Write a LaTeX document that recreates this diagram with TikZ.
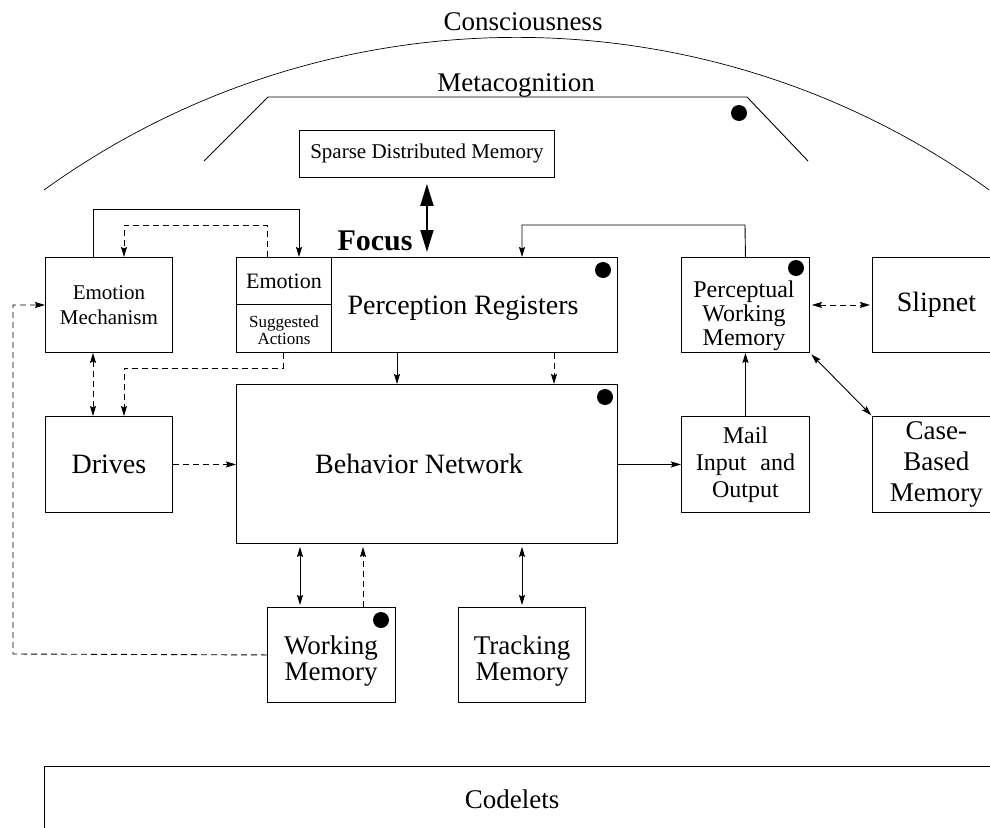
\documentclass[tikz,border=0pt]{standalone}
\usepackage{fontspec}
\setmainfont{Liberation Serif}
\usetikzlibrary{arrows.meta}
\newcommand{\fsz}[2]{\fontsize{#1}{#2}\selectfont}
\tikzset{
  box/.style={draw, line width=0.9pt, inner sep=0pt, anchor=north west, align=center},
  lbl/.style={inner sep=0pt, align=center},
  link/.style={line width=0.9pt},
  tip/.tip={Stealth[length=10pt,width=6pt,inset=1.5pt]},
  arr/.style={link, -tip},
  darr/.style={link, -tip, dash pattern=on 6pt off 4pt},
  dbl/.style={link, tip-tip},
  ddbl/.style={link, tip-tip, dash pattern=on 6pt off 4pt},
  bigarr/.style={line width=1.8pt, {Triangle[length=22pt,width=13pt]}-{Triangle[length=22pt,width=13pt]}},
  marker/.style={fill=black},
}
\begin{document}
\begin{tikzpicture}[x=1pt,y=-1pt]
\clip (0,0) rectangle (990,827);

% outer layers: consciousness arc and metacognition trapezoid
\draw[line width=0.7pt] (44,190) arc[start angle=-125.8, end angle=-54.2, radius=808];
\node[lbl, anchor=base, font=\fsz{27}{29}] (consc) at (523,30) {Consciousness};
\draw[line width=0.9pt] (204,161) -- (268,97) -- (747,97) -- (808,161);
\node[lbl, anchor=base, font=\fsz{27}{29}] (meta) at (516,91) {Metacognition};
\fill[marker] (739,113) circle[radius=8];

% memory and processing modules
\node[box, minimum width=255pt, minimum height=47pt, font=\fsz{21}{23}] (sdm) at (299,130) {Sparse Distributed Memory};
\node[box, minimum width=127pt, minimum height=95pt, font=\fsz{21}{25}] (em) at (45,257) {Emotion\\Mechanism};
\node[box, minimum width=381pt, minimum height=95pt] (pr) at (236,257) {};
\node[box, minimum width=95pt, minimum height=47pt, font=\fsz{22}{24}] (emo) at (236,257) {Emotion};
\node[box, minimum width=95pt, minimum height=48pt] (sug) at (236,304) {};
\node[lbl, font=\fsz{17}{17}] (sugtext) at (284,330) {Suggested\\Actions};
\node[lbl, anchor=base, font=\fsz{28}{30}] (prtext) at (463,314) {Perception Registers};
\node[box, minimum width=128pt, minimum height=95pt] (pwm) at (681,257) {};
\node[lbl, font=\fsz{24}{24}] (pwmtext) at (744,316) {Perceptual\\Working\\Memory};
\node[box, minimum width=128pt, minimum height=95pt, font=\fsz{28}{30}] (slip) at (872,257) {Slipnet};
\node[box, minimum width=127pt, minimum height=96pt, font=\fsz{28}{30}] (drives) at (45,416) {Drives};
\node[box, minimum width=381pt, minimum height=159pt] (bn) at (236,384) {};
\node[lbl, font=\fsz{28}{30}] (bntext) at (419,464) {Behavior Network};
\node[box, minimum width=128pt, minimum height=96pt, font=\fsz{24}{27}] (mail) at (681,416) {Mail\\Input\hspace{14pt}and\\Output};
\node[box, minimum width=128pt, minimum height=96pt, font=\fsz{27}{31}] (cbm) at (872,416) {Case-\\Based\\Memory};
\node[box, minimum width=128pt, minimum height=95pt] (wm) at (267,607) {};
\node[lbl, font=\fsz{27}{26}] (wmtext) at (331,661) {Working\\Memory};
\node[box, minimum width=127pt, minimum height=95pt] (tm) at (458,607) {};
\node[lbl, font=\fsz{27}{26}] (tmtext) at (522,661) {Tracking\\Memory};
\node[box, minimum width=960pt, minimum height=100pt] (cod) at (44,766) {};
\node[lbl, anchor=base, font=\fsz{27}{29}] (codtext) at (512,808) {Codelets};
\node[lbl, font=\fsz{30}{32}\bfseries] (focus) at (375,241) {Focus};

% activation markers
\fill[marker] (603,270) circle[radius=8];
\fill[marker] (796,268) circle[radius=8];
\fill[marker] (605,397) circle[radius=8];
\fill[marker] (381,620) circle[radius=8];

% routing points
\coordinate (j1) at (93,209);
\coordinate (j2) at (299,209);
\coordinate (j3) at (267,225);
\coordinate (j4) at (124,225);
\coordinate (j5) at (283,368);
\coordinate (j6) at (124,368);
\coordinate (j7) at (745,225);
\coordinate (j8) at (522,225);
\coordinate (j9) at (13,654);
\coordinate (j10) at (13,305);
\coordinate (x1) at (397,0);
\coordinate (x2) at (554,0);
\coordinate (x3) at (300,0);
\coordinate (x4) at (363,0);
\coordinate (x5) at (522,0);

% connectors
\draw[bigarr, shorten <=6pt, shorten >=5pt] (sdm.south) -- (pr.north -| sdm.south);
\draw[arr] (em.north -| j1) -- (j1) -- (j2) -- (pr.north -| j2);
\draw[darr] (emo.north -| j3) -- (j3) -- (j4) -- (em.north -| j4);
\draw[darr] (sug.south -| j5) -- (j5) -- (j6) -- (drives.north -| j6);
\draw[ddbl] (em.south -| j1) -- (drives.north -| j1);
\draw[darr] (drives.east) -- (bn.west |- drives.east);
\draw[arr] (pr.south -| x1) -- (bn.north -| x1);
\draw[darr] (pr.south -| x2) -- (bn.north -| x2);
\draw[arr] (pwm.north) -- (j7) -- (j8) -- (pr.north -| j8);
\draw[ddbl, shorten <=2pt, shorten >=2pt] (pwm.east) -- (slip.west);
\draw[dbl, shorten <=2pt, shorten >=1pt] (pwm.south east) -- (cbm.north west);
\draw[arr] (mail.north) -- (pwm.south);
\draw[arr] (bn.east |- mail.west) -- (mail.west);
\draw[dbl, shorten <=3pt, shorten >=2pt] (bn.south -| x3) -- (wm.north -| x3);
\draw[darr, shorten >=3pt] (wm.north -| x4) -- (bn.south -| x4);
\draw[dbl, shorten <=3pt, shorten >=2pt] (bn.south -| x5) -- (tm.north -| x5);
\draw[darr] (wm.west) -- (j9) -- (j10) -- (em.west |- j10);
\end{tikzpicture}
\end{document}
